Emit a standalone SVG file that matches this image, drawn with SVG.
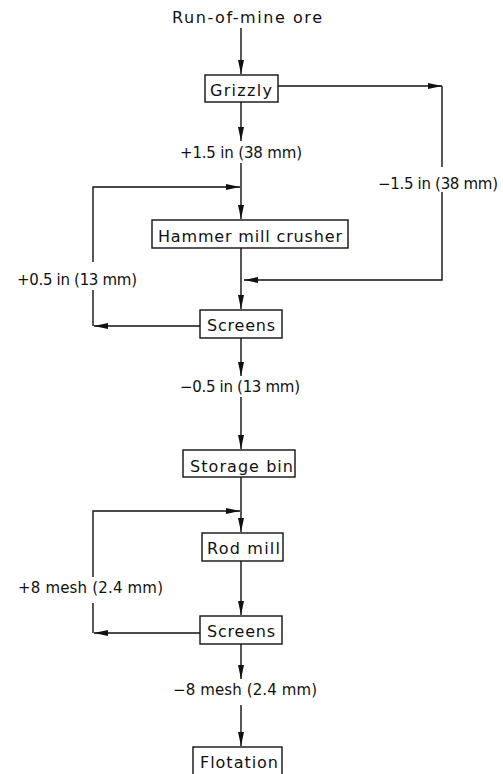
<svg xmlns="http://www.w3.org/2000/svg" width="503" height="774" viewBox="0 0 503 774">
<style>
text{font-family:"DejaVu Sans","Liberation Sans",sans-serif;font-size:16px;fill:#111}
text.lb{font-size:15px}
.box{fill:#fff;stroke:#111;stroke-width:1.4}
.ln{fill:none;stroke:#111;stroke-width:1.4}
</style>
<defs>
<marker id="ah" markerUnits="userSpaceOnUse" markerWidth="16" markerHeight="8" refX="14" refY="3" orient="auto">
<path d="M0,0 L14,3 L0,6 z" fill="#111"/>
</marker>
</defs>
<rect width="503" height="774" fill="#fff"/>
<g id="connectors">
<path class="ln" d="M241,28 V74" marker-end="url(#ah)"/>
<path class="ln" d="M278,86 H442" marker-end="url(#ah)"/>
<path class="ln" d="M442,86 V167"/>
<path class="ln" d="M442,192 V280 H244" marker-end="url(#ah)"/>
<path class="ln" d="M241,102 V141" marker-end="url(#ah)"/>
<path class="ln" d="M241,163 V219" marker-end="url(#ah)"/>
<path class="ln" d="M200,326 H94" marker-end="url(#ah)"/>
<path class="ln" d="M93,326 V290"/>
<path class="ln" d="M93,262 V187 H240" marker-end="url(#ah)"/>
<path class="ln" d="M241,248 V309" marker-end="url(#ah)"/>
<path class="ln" d="M241,338 V376" marker-end="url(#ah)"/>
<path class="ln" d="M241,397 V449" marker-end="url(#ah)"/>
<path class="ln" d="M241,477 V532" marker-end="url(#ah)"/>
<path class="ln" d="M200,633 H94" marker-end="url(#ah)"/>
<path class="ln" d="M93,633 V603"/>
<path class="ln" d="M93,577 V511 H240" marker-end="url(#ah)"/>
<path class="ln" d="M241,561 V615" marker-end="url(#ah)"/>
<path class="ln" d="M241,644 V679" marker-end="url(#ah)"/>
<path class="ln" d="M241,705 V746" marker-end="url(#ah)"/>
</g>
<g id="label-runofmine"><text x="172" y="23" textLength="150">Run-of-mine ore</text></g>
<g id="node-grizzly"><rect class="box" x="205" y="75" width="73" height="27"/><text x="210" y="96" textLength="62">Grizzly</text></g>
<g id="label-plus15"><text class="lb" x="180" y="158" textLength="122">+1.5 in (38 mm)</text></g>
<g id="label-minus15"><text class="lb" x="378" y="189" textLength="120">−1.5 in (38 mm)</text></g>
<g id="node-hammer"><rect class="box" x="152" y="220" width="196" height="28"/><text x="158" y="242" textLength="184">Hammer mill crusher</text></g>
<g id="label-plus05"><text class="lb" x="17" y="285" textLength="120">+0.5 in (13 mm)</text></g>
<g id="node-screens1"><rect class="box" x="200" y="310" width="82" height="28"/><text x="207" y="331" textLength="68">Screens</text></g>
<g id="label-minus05"><text class="lb" x="180" y="392" textLength="120">−0.5 in (13 mm)</text></g>
<g id="node-storage"><rect class="box" x="183" y="450" width="112" height="27"/><text x="190" y="472" textLength="103">Storage bin</text></g>
<g id="node-rodmill"><rect class="box" x="202" y="533" width="81" height="28"/><text x="207" y="554" textLength="73">Rod mill</text></g>
<g id="label-plus8"><text class="lb" x="18" y="593" textLength="145">+8 mesh (2.4 mm)</text></g>
<g id="node-screens2"><rect class="box" x="200" y="616" width="82" height="28"/><text x="207" y="637" textLength="68">Screens</text></g>
<g id="label-minus8"><text class="lb" x="173" y="695" textLength="144">−8 mesh (2.4 mm)</text></g>
<g id="node-flotation"><rect class="box" x="193" y="747" width="89" height="30"/><text x="200" y="768" textLength="78">Flotation</text></g>
</svg>
